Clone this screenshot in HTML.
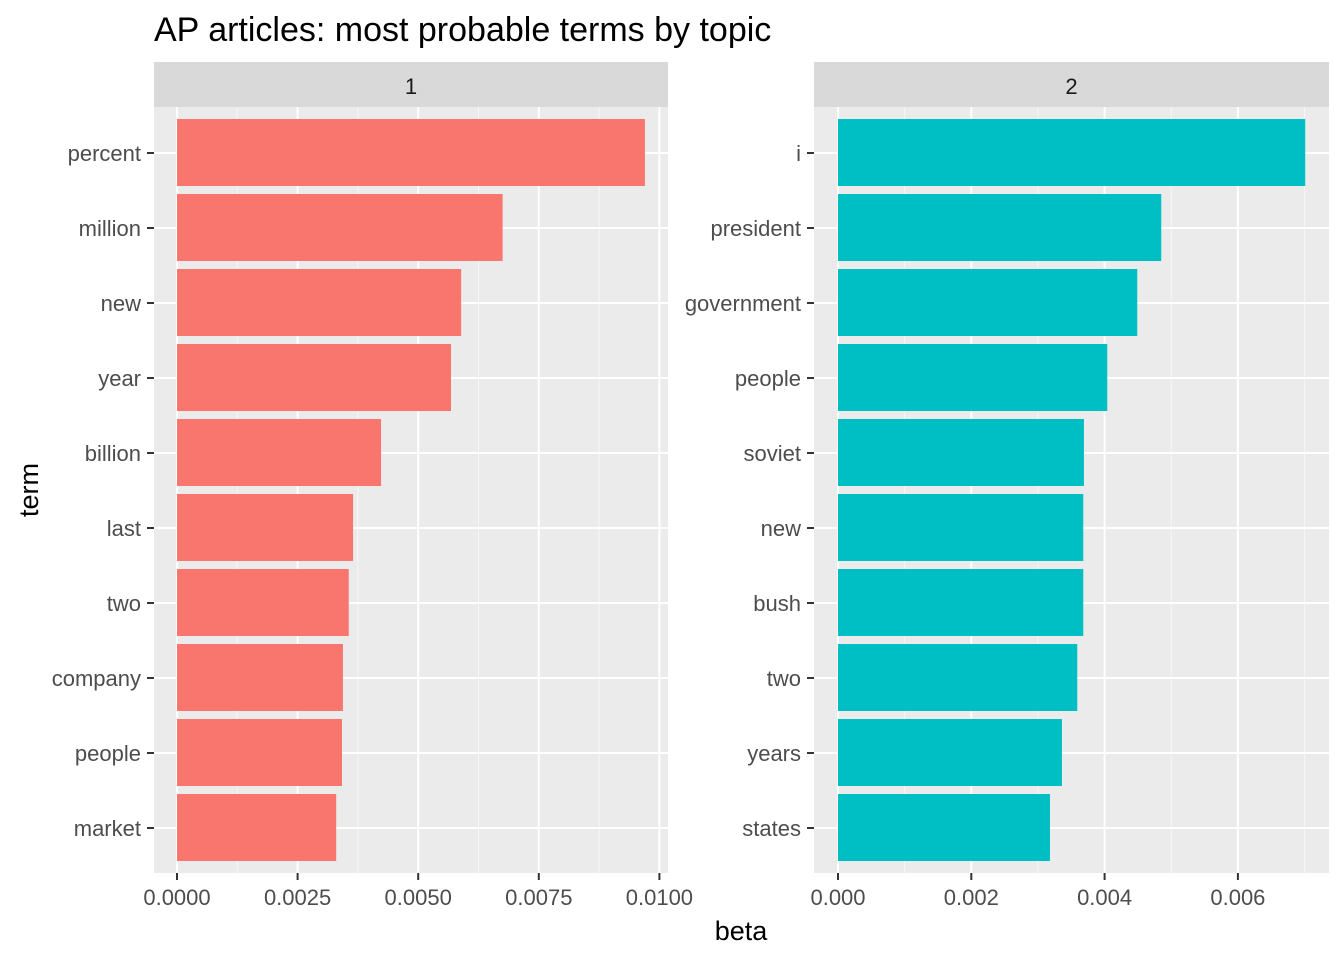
<!DOCTYPE html>
<html><head><meta charset="utf-8"><style>
body{margin:0;background:#fff;}
svg text{font-family:"Liberation Sans",Arial,sans-serif;}
</style></head><body>
<svg id="chart" width="1344" height="960" viewBox="0 0 1344 960" xmlns="http://www.w3.org/2000/svg">
<text x="154" y="41" font-size="34" fill="#000">AP articles: most probable terms by topic</text>
<text x="741" y="940" font-size="27" text-anchor="middle" fill="#000">beta</text>
<text transform="translate(38,490) rotate(-90)" font-size="27" text-anchor="middle" fill="#000">term</text>
</svg>
<script>
const terms1 = ["percent","million","new","year","billion","last","two","company","people","market"];
const beta1 = [0.00970,0.00675,0.00589,0.00568,0.00423,0.00365,0.00356,0.00344,0.00342,0.00330];
const ticks1 = [0,0.0025,0.005,0.0075,0.01];
const tickLabels1 = ["0.0000","0.0025","0.0050","0.0075","0.0100"];
const terms2 = ["i","president","government","people","soviet","new","bush","two","years","states"];
const beta2 = [0.00701,0.00485,0.00449,0.00404,0.00369,0.00368,0.00368,0.00359,0.00336,0.00318];
const ticks2 = [0,0.002,0.004,0.006];
const tickLabels2 = ["0.000","0.002","0.004","0.006"];

const svg = document.getElementById('chart');
const NS = "http://www.w3.org/2000/svg";
function mk(tag, attrs, parent){const e=document.createElementNS(NS,tag);for(const k in attrs)e.setAttribute(k,attrs[k]);(parent||svg).appendChild(e);return e;}

function panel(id, left, right, x0px, pxPerUnit, terms, vals, ticks, labels, color){
  const top=107, bottom=873, step=75;
  const xs = v => x0px + v*pxPerUnit;
  const ys = i => 153 + i*step;
  const strip = mk('rect',{x:left,y:62,width:right-left,height:45,fill:'#D9D9D9'});
  
  
  const st = mk('text',{x:(left+right)/2,y:94,'font-size':22,'text-anchor':'middle',fill:'#1A1A1A'});
  st.textContent=id;
  
  
  const bg = mk('rect',{x:left,y:top,width:right-left,height:bottom-top,fill:'#EBEBEB'});
  
  
  for(let i=0;i<ticks.length;i++){
    const d = ticks[1]-ticks[0];
    const m = xs(ticks[i]+d/2);
    if(m<right){const l=mk('line',{x1:m,x2:m,y1:top,y2:bottom,stroke:'#F7F7F7','stroke-width':1});
      }
  }
  ticks.forEach((t,i)=>{
    const x=xs(t);
    const g=mk('line',{x1:x,x2:x,y1:top,y2:bottom,stroke:'#fff','stroke-width':2});
    
    const tk=mk('line',{x1:x,x2:x,y1:bottom,y2:bottom+7,stroke:'#333','stroke-width':2});
    
    const tl=mk('text',{x:x,y:905,'font-size':22,'text-anchor':'middle',fill:'#4D4D4D'});
    tl.textContent=labels[i];
    
  });
  terms.forEach((t,i)=>{
    const y=ys(i);
    const g=mk('line',{x1:left,x2:right,y1:y,y2:y,stroke:'#fff','stroke-width':2});
    
    const b=mk('rect',{x:xs(0),y:y-34,width:xs(vals[i])-xs(0),height:67,fill:color});
    
    const tk=mk('line',{x1:left-7,x2:left,y1:y,y2:y,stroke:'#333','stroke-width':2});
    
    const tl=mk('text',{x:left-13,y:y+8,'font-size':22,'text-anchor':'end',fill:'#4D4D4D'});
    tl.textContent=t;
    
  });
}
panel('1',154,668,177,48240,terms1,beta1,ticks1,tickLabels1,'#F8766D');
panel('2',814,1329,838,66650,terms2,beta2,ticks2,tickLabels2,'#00BFC4');
</script>
</body></html>
